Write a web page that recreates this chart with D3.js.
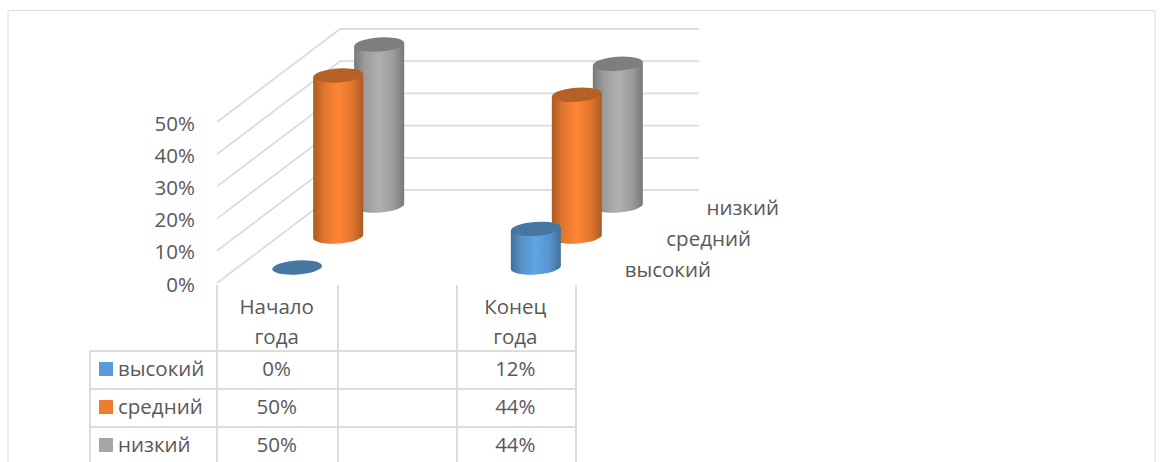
<!DOCTYPE html>
<html lang="ru">
	<head>
		<meta charset="utf-8">
		<title>Уровни</title>
		<script src="https://d3js.org/d3.v7.min.js"></script>
		<style type="text/css">
		body { margin: 0; background: #fff; }
		text { font-family: "Open Sans", sans-serif; fill: #595959; }
		</style>
	</head>
	<body>
<div id="chart"></div>
		<script type="text/javascript">
// Data
var categories = ["Начало года", "Конец года"];
var categoryLines = [["Начало", "года"], ["Конец", "года"]];
var seriesNames = ["высокий", "средний", "низкий"];
var seriesColors = ["#5b9bd5", "#ed7d31", "#a5a5a5"];
var vysokiy = [0, 12];
var sredniy = [50, 44];
var nizkiy = [50, 44];
var seriesValues = [vysokiy, sredniy, nizkiy];
var yTicks = [0, 10, 20, 30, 40, 50];

//Width and height
var w = 1166;
var h = 462;
var grid = "#dcdcdc";
var fontSize = 20.5;

// front edge of the plot, x goes along the categories (two plus an empty gap column)
var x = d3.scaleBand().domain([0, "gap", 1]).range([217, 575]).padding(0);
var yScale = d3.scaleLinear().domain([0, 50]).range([283, 122]);
// depth axis: 0 is the front, 1 the back wall
var depthX = d3.scaleLinear().domain([0, 1]).range([0, 123]);
var depthY = d3.scaleLinear().domain([0, 1]).range([0, -93]);
var depth = d3.scalePoint().domain(seriesNames).range([1 / 6, 5 / 6]);
var rx = 25, ry = 7, tilt = -4;

var svg = d3.select("#chart").append("svg")
	.attr("width", w)
	.attr("height", h)
	.style("display", "block");

var defs = svg.append("defs");

// cylinder shading, dark at both edges
seriesColors.forEach(function(c, i) {
	var g = defs.append("linearGradient").attr("id", "side" + i);
	var base = d3.rgb(c);
	var light = i == 0 ? "#5fa5e4" : i == 1 ? "#ff8533" : "#b0b0b0";
	g.append("stop").attr("offset", "0%").attr("stop-color", base.darker(0.9));
	g.append("stop").attr("offset", "22%").attr("stop-color", base.darker(0.15));
	g.append("stop").attr("offset", "50%").attr("stop-color", light);
	g.append("stop").attr("offset", "78%").attr("stop-color", base.darker(0.15));
	g.append("stop").attr("offset", "100%").attr("stop-color", base.darker(0.9));
});

// chart frame
svg.append("path")
	.attr("d", d3.line()([[8, h], [8, 10.5], [1155, 10.5], [1155, h]]))
	.attr("fill", "none")
	.attr("stroke", grid);

// side and back walls
var gridG = svg.append("g")
	.attr("fill", "none")
	.attr("stroke", grid)
	.attr("stroke-width", 1.8);

gridG.selectAll("path")
	.data(yTicks)
	.enter()
	.append("path")
	.attr("d", function(t) {
		var y0 = yScale(t);
		return d3.line()([[217, y0], [217 + depthX(1), y0 + depthY(1)], [699, y0 + depthY(1)]]);
	});

// y axis
var yAxis = d3.axisLeft(yScale)
	.tickValues(yTicks)
	.tickSize(0)
	.tickPadding(22)
	.tickFormat(function(d) { return d + "%"; });

svg.append("g")
	.attr("transform", "translate(217,1.5)")
	.call(yAxis)
	.call(function(g) { g.select(".domain").remove(); })
	.selectAll("text")
	.style("font-family", '"Open Sans", sans-serif')
	.style("font-size", fontSize + "px")
	.attr("fill", "#595959");

// one cylinder, back series first so the front ones overlap
function cylinder(s, c) {
	var name = seriesNames[s];
	var value = seriesValues[s][c];
	var cx = x(c) + x.bandwidth() / 2 + depthX(depth(name));
	var by = yScale(0) + depthY(depth(name));
	var ty = by - (yScale(0) - yScale(value));
	var rot = "rotate(" + tilt + " ";
	var top = d3.rgb(seriesColors[s]).darker(0.75);
	var dy = rx * Math.sin(-tilt * Math.PI / 180);
	var g = svg.append("g");

	if (value > 0) {
		// side: bottom half of the base ellipse joined up to the top
		g.append("path")
			.attr("d", "M" + (cx - rx) + "," + (ty + dy)
				+ "L" + (cx - rx) + "," + (by + dy)
				+ "A" + rx + "," + ry + " " + tilt + " 0 0 " + (cx + rx) + "," + (by - dy)
				+ "L" + (cx + rx) + "," + (ty - dy) + "Z")
			.attr("fill", "url(#side" + s + ")");
	}
	g.append("ellipse")
		.attr("cx", cx)
		.attr("cy", ty)
		.attr("rx", rx)
		.attr("ry", ry)
		.attr("transform", rot + cx + " " + ty + ")")
		.attr("fill", top);
}

[2, 1, 0].forEach(function(s) {
	[0, 1].forEach(function(c) { cylinder(s, c); });
});

// series names along the depth axis
var depthLabelEnd = [711, 751, 779];
svg.selectAll("text.series")
	.data(seriesNames)
	.enter()
	.append("text")
	.attr("class", "series")
	.attr("x", function(d, i) { return depthLabelEnd[i]; })
	.attr("y", function(d) { return yScale(0) + depthY(depth(d)) + 9; })
	.attr("text-anchor", "end")
	.attr("font-size", fontSize)
	.text(function(d) { return d; });

// data table
var tableRows = d3.scaleBand().domain(seriesNames).range([351, 465]);
var tableCols = [90, 217, 338, 457, 576];
var tableG = svg.append("g").attr("stroke", grid).attr("stroke-width", 2);

tableG.selectAll("line.row")
	.data(seriesNames)
	.enter()
	.append("line")
	.attr("x1", 90)
	.attr("x2", 576)
	.attr("y1", function(d) { return tableRows(d); })
	.attr("y2", function(d) { return tableRows(d); });

tableG.selectAll("line.col")
	.data(tableCols)
	.enter()
	.append("line")
	.attr("x1", function(d) { return d; })
	.attr("x2", function(d) { return d; })
	.attr("y1", function(d, i) { return i == 0 ? 351 : 285; })
	.attr("y2", h);

categoryLines.forEach(function(lines, c) {
	lines.forEach(function(line, i) {
		svg.append("text")
			.attr("x", x(c) + x.bandwidth() / 2)
			.attr("y", 314 + i * 30)
			.attr("text-anchor", "middle")
			.attr("font-size", fontSize)
			.text(line);
	});
});

seriesNames.forEach(function(name, s) {
	var cy = tableRows(name) + tableRows.bandwidth() / 2 - 1;
	svg.append("rect")
		.attr("x", 99)
		.attr("y", cy - 7)
		.attr("width", 14)
		.attr("height", 14)
		.attr("fill", seriesColors[s]);
	svg.append("text")
		.attr("x", 118)
		.attr("y", cy + 7)
		.attr("font-size", fontSize)
		.text(name);
	categories.forEach(function(cat, c) {
		svg.append("text")
			.attr("x", x(c) + x.bandwidth() / 2)
			.attr("y", cy + 7)
			.attr("text-anchor", "middle")
			.attr("font-size", fontSize)
			.text(seriesValues[s][c] + "%");
	});
});

		</script>
	</body>
</html>
